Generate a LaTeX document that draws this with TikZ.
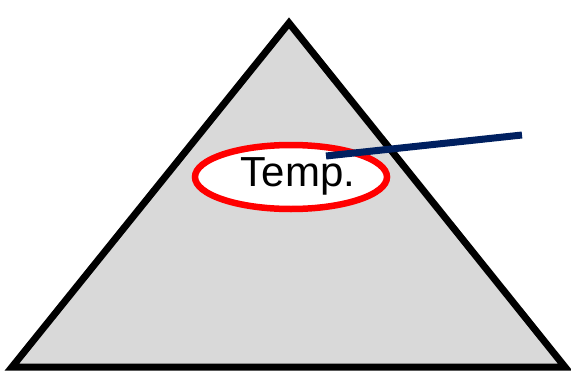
\documentclass[tikz,border=0pt]{standalone}
\usepackage{fontspec}
\setmainfont{Liberation Sans}
\definecolor{trigray}{RGB}{217,217,217}
\definecolor{navy}{RGB}{0,32,96}
\begin{document}
\begin{tikzpicture}[x=1pt,y=-1pt,
  tri/.style={draw=black,fill=trigray,line width=7pt,line join=miter},
  ring/.style={draw=red,fill=white,line width=6.5pt},
  pointer/.style={draw=navy,line width=7pt}]
\useasboundingbox (0,0) rectangle (571,370);
\coordinate (apex) at (289,23);
\coordinate (bl) at (12,367);
\coordinate (br) at (565,367);
\draw[tri] (apex) -- (br) -- (bl) -- cycle;
\draw[ring] (291,177) ellipse [x radius=96, y radius=32];
\node[inner sep=0pt,font=\fontsize{42}{48}\selectfont] (temp) at (298,176) {Temp.};
\coordinate (ptrstart) at (326,156);
\coordinate (ptrend) at (522,135);
\draw[pointer] (ptrstart) -- (ptrend);
\end{tikzpicture}
\end{document}
